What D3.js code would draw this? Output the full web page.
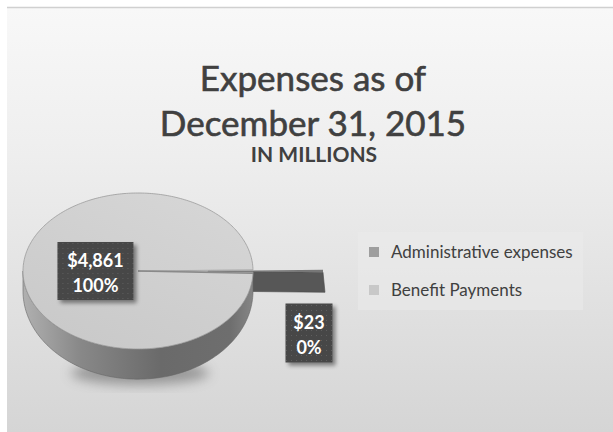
<!DOCTYPE html>
<html>
<head>
<meta charset="utf-8">
<script src="https://cdn.jsdelivr.net/npm/d3@7/dist/d3.min.js"></script>
<style>
  html, body { margin: 0; padding: 0; background: #ffffff; }
  svg { display: block; }
</style>
</head>
<body>
<svg id="chart" width="613" height="432"></svg>
<script>
// Expense categories and amounts (USD millions)
const categories = ["Administrative expenses", "Benefit Payments"];
const amounts = [23, 4861];
const titleLines = ["Expenses as of", "December 31, 2015"];
const subtitle = "IN MILLIONS";

const W = 613, H = 432;
const svg = d3.select("#chart");
const defs = svg.append("defs");

// ---- background panel ----
const bg = defs.append("linearGradient").attr("id", "bg").attr("x1", 0).attr("y1", 0).attr("x2", 0).attr("y2", 1);
bg.append("stop").attr("offset", "0%").attr("stop-color", "#f8f8f8");
bg.append("stop").attr("offset", "35%").attr("stop-color", "#eeeeee");
bg.append("stop").attr("offset", "100%").attr("stop-color", "#d5d5d5");
svg.append("rect").attr("x", 7).attr("y", 8).attr("width", W - 7).attr("height", H - 8).attr("fill", "url(#bg)");
svg.append("line").attr("x1", 7).attr("x2", W).attr("y1", 7.5).attr("y2", 7.5).attr("stroke", "#d0d0d0").attr("stroke-width", 1.5);

// ---- title ----
const title = svg.append("g").attr("font-family", "Lato, 'Open Sans', sans-serif").attr("fill", "#404040").attr("text-anchor", "middle");
title.selectAll("text.t").data(titleLines).join("text").attr("class", "t")
  .attr("x", 313).attr("y", (d, i) => 91 + i * 45).attr("font-size", 35)
  .attr("stroke", "#404040").attr("stroke-width", 0.6).text(d => d);
title.append("text").attr("x", 314).attr("y", 162).attr("font-size", 21).attr("font-weight", "bold").text(subtitle);

// ---- pie geometry ----
const cx = 138, cy = 271, rx = 115, ry = 78;
const explode = 70;
const depthAt = y => 20 + 0.13 * (y - cy);   // thicker toward the viewer

const total = d3.sum(amounts);
// Admin slice centered on the 3 o'clock direction
const half = Math.PI * amounts[0] / total;
const pie = d3.pie().sort(null).startAngle(Math.PI / 2 - half).endAngle(Math.PI / 2 - half + 2 * Math.PI);
const arcs = pie(amounts);

const px = (a, ox = 0) => cx + ox + rx * Math.sin(a);
const py = a => cy - ry * Math.cos(a);

function topFace(a0, a1, ox) {
  const p = d3.path();
  p.moveTo(cx + ox, cy);
  const n = Math.max(2, Math.ceil((a1 - a0) / 0.02));
  for (let i = 0; i <= n; i++) {
    const a = a0 + (a1 - a0) * i / n;
    p.lineTo(px(a, ox), py(a));
  }
  p.closePath();
  return p.toString();
}

// front wall between angles (clipped to visible front half)
function outerWall(a0, a1, ox) {
  const lo = Math.max(a0, Math.PI / 2), hi = Math.min(a1, 3 * Math.PI / 2);
  if (hi <= lo) return null;
  const n = Math.ceil((hi - lo) / 0.02);
  const top = [], bot = [];
  for (let i = 0; i <= n; i++) {
    const a = lo + (hi - lo) * i / n;
    const x = px(a, ox), y = py(a);
    top.push([x, y]);
    bot.push([x, y + depthAt(y)]);
  }
  return d3.line()(top.concat(bot.reverse())) + "Z";
}

// ---- gradients ----
const sideG = defs.append("linearGradient").attr("id", "side").attr("x1", 0).attr("x2", 1).attr("y1", 0).attr("y2", 0);
[["0%", "#b0b0b0"], ["25%", "#888888"], ["60%", "#6a6a6a"], ["90%", "#6e6e6e"], ["100%", "#868686"]]
  .forEach(([o, c]) => sideG.append("stop").attr("offset", o).attr("stop-color", c));
const topG = defs.append("linearGradient").attr("id", "topf").attr("x1", 0.8).attr("y1", 0).attr("x2", 0.2).attr("y2", 1);
topG.append("stop").attr("offset", "0%").attr("stop-color", "#d6d6d6");
topG.append("stop").attr("offset", "100%").attr("stop-color", "#c9c9c9");

const blur = defs.append("filter").attr("id", "blur").attr("x", "-30%").attr("y", "-30%").attr("width", "160%").attr("height", "160%");
blur.append("feGaussianBlur").attr("stdDeviation", 6);
const sh = defs.append("filter").attr("id", "boxShadow").attr("x", "-20%").attr("y", "-20%").attr("width", "150%").attr("height", "150%");
sh.append("feGaussianBlur").attr("in", "SourceAlpha").attr("stdDeviation", 2).attr("result", "b");
sh.append("feOffset").attr("dx", 3).attr("dy", 3).attr("result", "o");
sh.append("feComponentTransfer").attr("in", "o").attr("result", "s").append("feFuncA").attr("type", "linear").attr("slope", 0.45);
const m = sh.append("feMerge"); m.append("feMergeNode").attr("in", "s"); m.append("feMergeNode").attr("in", "SourceGraphic");

const dots = defs.append("pattern").attr("id", "dots").attr("width", 5).attr("height", 5).attr("patternUnits", "userSpaceOnUse");
dots.append("rect").attr("width", 5).attr("height", 5).attr("fill", "#474747");
dots.append("rect").attr("x", 2).attr("y", 2).attr("width", 1).attr("height", 1).attr("fill", "#5e5e5e");

// ---- shadow under the pie ----
svg.append("ellipse").attr("cx", cx + 2).attr("cy", cy + ry + 24).attr("rx", rx * 0.6).attr("ry", 12)
  .attr("fill", "#555").attr("opacity", 0.5).attr("filter", "url(#blur)");

const pieG = svg.append("g");

// exploded admin slice: its radial wall and top face
const adm = arcs[0];
const mid = (adm.startAngle + adm.endAngle) / 2;
const ox = explode * Math.sin(mid);
{
  const a = adm.endAngle;
  const x0 = cx + ox, y0 = cy, x1 = px(a, ox), y1 = py(a);
  pieG.append("path")
    .attr("d", d3.line()([[x0, y0], [x1, y1], [x1 + 2, y1 + depthAt(y1)], [x0, y0 + depthAt(y0)]]) + "Z")
    .attr("fill", "#575757").attr("stroke", "#4a4a4a").attr("stroke-width", 0.6);
  const w = outerWall(adm.startAngle, adm.endAngle, ox);
  if (w) pieG.append("path").attr("d", w).attr("fill", "#666");
  pieG.append("path").attr("d", topFace(adm.startAngle, adm.endAngle, ox)).attr("fill", "#777");
}

// main benefit slice
const ben = arcs[1];
pieG.append("path").attr("d", outerWall(ben.startAngle, ben.endAngle, 0))
  .attr("fill", "url(#side)").attr("stroke", "#666").attr("stroke-width", 0.6);
pieG.append("path").attr("d", topFace(ben.startAngle, ben.endAngle, 0))
  .attr("fill", "url(#topf)").attr("stroke", "#9a9a9a").attr("stroke-width", 0.8);
// cut edge of the missing wedge
pieG.append("line").attr("x1", cx).attr("y1", cy).attr("x2", px(ben.startAngle)).attr("y2", py(ben.startAngle) + 1)
  .attr("stroke", "#8a8a8a").attr("stroke-width", 1.5);

// ---- data labels ----
const fmtVal = d3.format("$,");
const fmtPct = d3.format(".0%");
const labelPos = [
  { x: px(mid, ox) - 14, y: cy + 62, w: 47, h: 59 },
  { x: cx - rx * 0.37, y: cy, w: 76, h: 58 }
];
const lab = svg.append("g").selectAll("g").data(arcs).join("g")
  .attr("transform", (d, i) => `translate(${labelPos[i].x},${labelPos[i].y})`);
lab.append("rect")
  .attr("x", (d, i) => -labelPos[i].w / 2).attr("y", (d, i) => -labelPos[i].h / 2)
  .attr("width", (d, i) => labelPos[i].w).attr("height", (d, i) => labelPos[i].h)
  .attr("fill", "url(#dots)").attr("filter", "url(#boxShadow)");
lab.append("text").attr("text-anchor", "middle").attr("y", -4)
  .attr("font-family", "Lato, sans-serif").attr("font-weight", "bold").attr("font-size", 18).attr("fill", "#ffffff")
  .text(d => fmtVal(d.data));
lab.append("text").attr("text-anchor", "middle").attr("y", 21)
  .attr("font-family", "Lato, sans-serif").attr("font-weight", "bold").attr("font-size", 18).attr("fill", "#ffffff")
  .text(d => fmtPct(d.data / total));

// ---- legend ----
const legendColors = ["#9e9e9e", "#c8c8c8"];
const leg = svg.append("g").attr("transform", "translate(358,232)");
leg.append("rect").attr("width", 225).attr("height", 78).attr("fill", "#ececec").attr("opacity", 0.5);
const item = leg.selectAll("g.item").data(categories).join("g").attr("class", "item")
  .attr("transform", (d, i) => `translate(11,${20 + i * 38})`);
item.append("rect").attr("y", -5).attr("width", 10).attr("height", 10).attr("fill", (d, i) => legendColors[i]);
item.append("text").attr("x", 22).attr("y", 6).attr("font-family", "Lato, sans-serif").attr("font-size", 17)
  .attr("fill", "#404040").text(d => d);
</script>
</body>
</html>
